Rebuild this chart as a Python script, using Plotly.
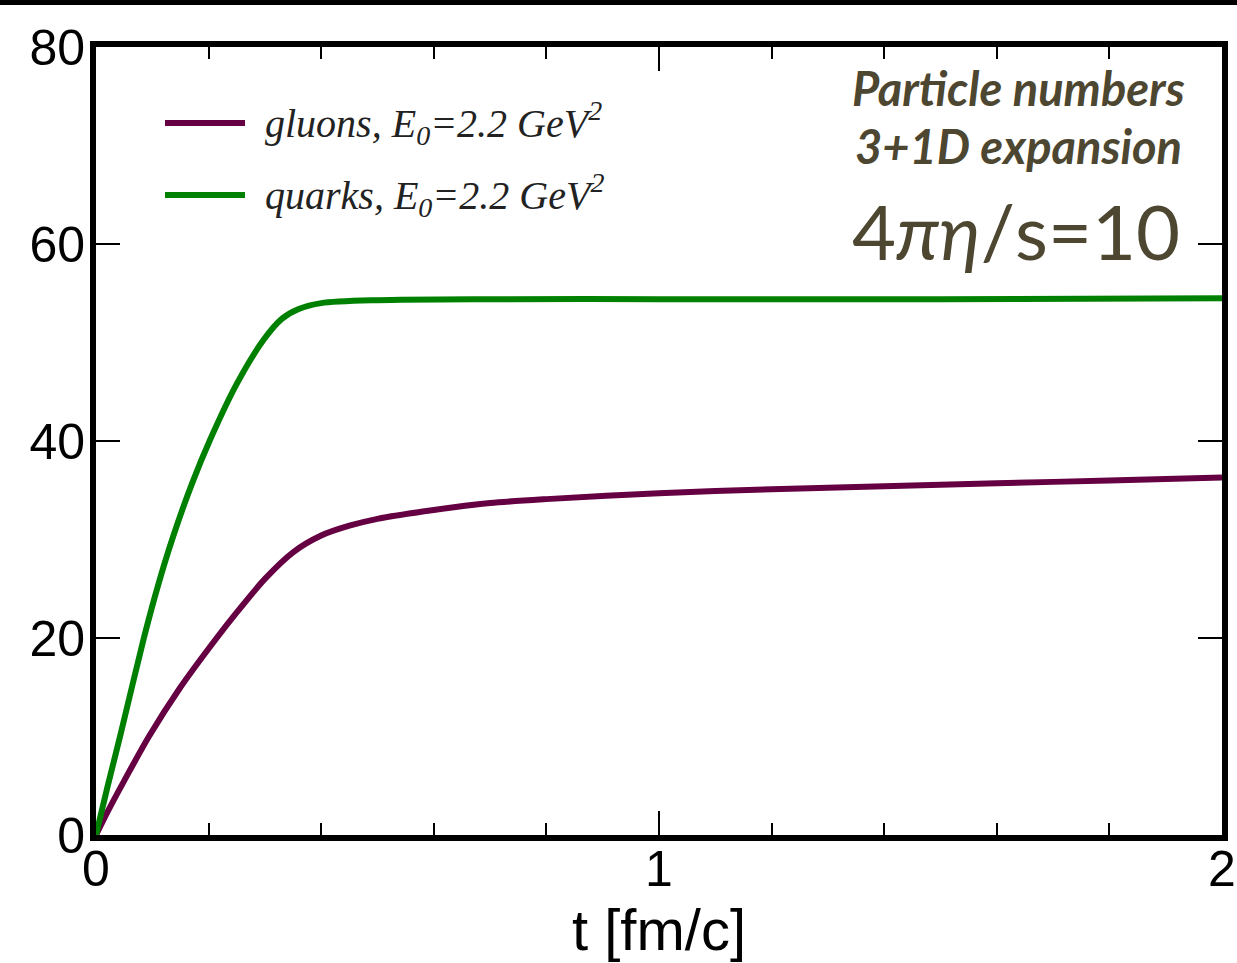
import plotly.graph_objects as go

# Time axis [fm/c] and particle numbers
t_gluons = [0.0, 0.02, 0.05, 0.094, 0.15, 0.213, 0.25, 0.3, 0.35, 0.4, 0.45, 0.5, 0.6,
            0.7, 0.8, 1.0, 1.2, 1.4, 1.6, 1.8, 2.0]
n_gluons = [0.0, 2.3, 5.5, 10.0, 15.0, 19.9, 22.6, 26.0, 28.7, 30.4, 31.4, 32.1, 33.0,
            33.7, 34.1, 34.7, 35.1, 35.4, 35.7, 36.0, 36.3]

t_quarks = [0.0, 0.02, 0.044, 0.085, 0.11, 0.137, 0.17, 0.204, 0.25, 0.298, 0.33, 0.36,
            0.4, 0.5, 0.7, 1.0, 1.5, 2.0]
n_quarks = [0.0, 4.8, 10.3, 20.0, 25.3, 30.3, 35.6, 40.3, 45.8, 50.3, 52.4, 53.4,
            54.0, 54.3, 54.4, 54.4, 54.4, 54.5]

x_ticks = [0, 1, 2]
y_ticks = [0, 20, 40, 60, 80]

PURPLE = "#650042"
GREEN = "#008000"
TEXT = "#4d4731"

L, R, T, B = 96, 15, 47, 128
W, H = 1237, 963
pw, ph = W - L - R, H - T - B

fig = go.Figure()
fig.add_trace(go.Scatter(x=t_gluons, y=n_gluons, mode="lines",
                         line=dict(color=PURPLE, width=6, shape="spline", smoothing=0.8),
                         showlegend=False))
fig.add_trace(go.Scatter(x=t_quarks, y=n_quarks, mode="lines",
                         line=dict(color=GREEN, width=6, shape="spline", smoothing=0.8),
                         showlegend=False))

axis_font = dict(family="Liberation Sans, Arial", size=50, color="black")

fig.update_layout(
    width=W, height=H,
    margin=dict(l=L, r=R, t=T, b=B, autoexpand=False),
    paper_bgcolor="white", plot_bgcolor="white",
    xaxis=dict(range=[0, 2], tickvals=x_ticks, ticks="inside", ticklen=24, tickwidth=2,
               tickcolor="black", showline=True, linewidth=6, linecolor="black",
               mirror="ticks", showgrid=False, zeroline=False, tickfont=axis_font,
               ticklabelstandoff=-15, automargin=False, ticklabeloverflow="allow",
               minor=dict(dtick=0.2, ticks="inside", ticklen=12, tickwidth=2,
                          tickcolor="black", showgrid=False),
               title=dict(text="t [fm/c]", font=dict(family="Liberation Sans, Arial",
                                                       size=58, color="black"), standoff=2)),
    yaxis=dict(range=[0, 80], tickvals=y_ticks, ticks="inside", ticklen=24, tickwidth=2,
               tickcolor="black", showline=True, linewidth=6, linecolor="black",
               mirror="ticks", showgrid=False, zeroline=False, tickfont=axis_font,
               ticklabelstandoff=-5, automargin=False, ticklabeloverflow="allow"),
)

# black rule along the top edge of the page
fig.add_shape(type="rect", xref="paper", yref="paper",
              x0=-L / pw - 0.01, x1=1 + R / pw + 0.01,
              y0=1 + (T - 5) / ph, y1=1 + T / ph + 0.01,
              fillcolor="black", line_width=0, layer="above")

# legend
legend_rows = [("gluons, <i>E</i><sub>0</sub>=2.2 GeV<sup>2</sup>", PURPLE, 123),
               ("quarks, <i>E</i><sub>0</sub>=2.2 GeV<sup>2</sup>", GREEN, 195)]
for label, color, ypx in legend_rows:
    yp = 1 - (ypx - T) / ph
    fig.add_shape(type="line", xref="paper", yref="paper",
                  x0=(165 - L) / pw, x1=(245 - L) / pw, y0=yp, y1=yp,
                  line=dict(color=color, width=6))
    fig.add_annotation(xref="paper", yref="paper", x=(263 - L) / pw, y=yp,
                       xanchor="left", yanchor="middle", showarrow=False,
                       text="<i>" + label + "</i>",
                       font=dict(family="Liberation Serif, Times New Roman", size=40,
                                 color="#222222"))

# run description
def px_to_paper(xp, yp):
    return (xp - L) / pw, 1 - (yp - T) / ph

for text, xp, yp, size in [("<b><i>Particle numbers</i></b>", 1018, 88, 47),
                           ("<b><i>3+1D expansion</i></b>", 1018, 146, 47),
                           ("4<i>πη</i>/s=10", 1016, 230, 76)]:
    xx, yy = px_to_paper(xp, yp)
    fig.add_annotation(xref="paper", yref="paper", x=xx, y=yy, xanchor="center",
                       yanchor="middle", showarrow=False, text=text,
                       font=dict(family="Lato, Open Sans", size=size, color=TEXT))

fig.write_html("out.html")
